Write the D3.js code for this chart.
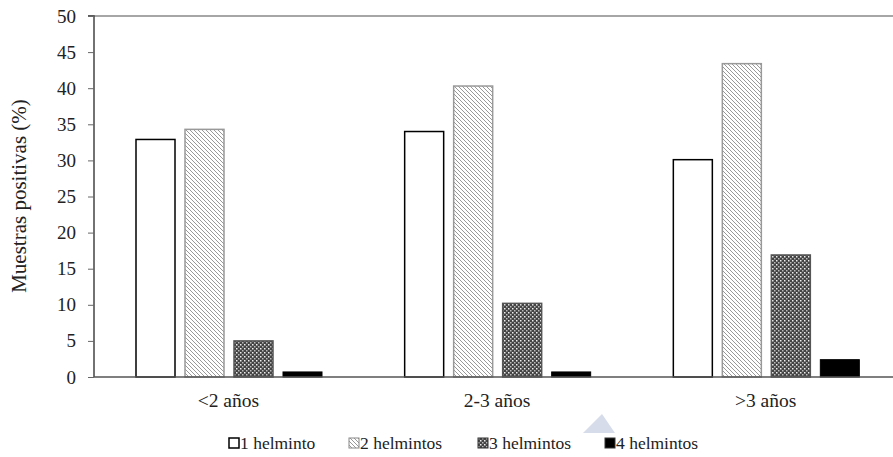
<!DOCTYPE html>
<html><head><meta charset="utf-8">
<script src="https://cdn.jsdelivr.net/npm/d3@7"></script>
<style>body{margin:0;background:#fff}svg{display:block}</style>
</head><body>
<svg id="chart" width="893" height="457"></svg>
<script>
const categories = ["<2 años", "2-3 años", ">3 años"];
const seriesNames = ["1 helminto", "2 helmintos", "3 helmintos", "4 helmintos"];
const s1 = [32.9, 34.0, 30.1];
const s2 = [34.3, 40.3, 43.4];
const s3 = [5.0, 10.2, 16.9];
const s4 = [0.7, 0.7, 2.4];
const yTicks = [0, 5, 10, 15, 20, 25, 30, 35, 40, 45, 50];
const seriesValues = [s1, s2, s3, s4];

const FONT = "'Liberation Serif', 'Times New Roman', Tinos, 'DejaVu Serif', serif";
const svg = d3.select("#chart");
const mLeft = 94, mRight = 900, mTop = 16, mBottom = 377;

const defs = svg.append("defs");
const p2 = defs.append("pattern").attr("id","hatch").attr("patternUnits","userSpaceOnUse")
  .attr("width",4).attr("height",4);
p2.append("rect").attr("width",4).attr("height",4).attr("fill","#fff");
p2.append("path").attr("d","M-1,-1 L5,5 M-1,3 L1,5 M3,-1 L5,1").attr("stroke","#999").attr("stroke-width",1);
const p3 = defs.append("pattern").attr("id","mesh").attr("patternUnits","userSpaceOnUse")
  .attr("width",4).attr("height",4);
p3.append("rect").attr("width",4).attr("height",4).attr("fill","#444");
p3.append("rect").attr("x",0).attr("y",0).attr("width",1.5).attr("height",1.5).attr("fill","#eee");
p3.append("rect").attr("x",2).attr("y",2).attr("width",1.5).attr("height",1.5).attr("fill","#bbb");

const styles = [
  {fill:"#fff", stroke:"#000", sw:1.5},
  {fill:"url(#hatch)", stroke:"#999", sw:1.5},
  {fill:"url(#mesh)", stroke:"#555", sw:1.5},
  {fill:"#000", stroke:"#000", sw:1}
];

const x0 = d3.scaleBand().domain(categories).range([mLeft, mRight]).padding(0);
const x1 = d3.scaleBand().domain(seriesNames).range([42, 228]).paddingInner(10/49).paddingOuter(0);
const y = d3.scaleLinear().domain([0, 50]).range([mBottom, mTop]);

// top border line
svg.append("line").attr("x1", mLeft-6).attr("x2", 893).attr("y1", y(50)).attr("y2", y(50))
  .attr("stroke","#888").attr("stroke-width",1.5);

// bars
categories.forEach((c, ci) => {
  seriesNames.forEach((s, si) => {
    const v = seriesValues[si][ci];
    const st = styles[si];
    svg.append("rect")
      .attr("x", x0(c) + x1(s))
      .attr("y", y(v))
      .attr("width", x1.bandwidth())
      .attr("height", y(0) - y(v))
      .attr("fill", st.fill).attr("stroke", st.stroke).attr("stroke-width", st.sw);
  });
});

// y axis
const yAxis = d3.axisLeft(y).tickValues(yTicks).tickSize(6).tickPadding(12);
const yg = svg.append("g").attr("transform", `translate(${mLeft},0)`).call(yAxis);
yg.attr("font-family", null);
yg.select(".domain").attr("stroke","#444").attr("stroke-width",1.5).attr("d", `M-6,${mTop}H0V${mBottom}`);
yg.selectAll(".tick line").attr("stroke","#666");
yg.selectAll(".tick text").style("font-size","19px").attr("fill","#222").style("font-family", FONT);

// x axis
const xAxis = d3.axisBottom(x0).tickSize(0).tickPadding(16);
const xg = svg.append("g").attr("transform", `translate(0,${mBottom})`).call(xAxis);
xg.attr("font-family", null);
xg.select(".domain").attr("stroke","#555").attr("stroke-width",1.5).attr("d", `M${mLeft},0H893`);
xg.selectAll(".tick text").style("font-size","19.5px").attr("fill","#222").style("font-family", FONT);

// y title
svg.append("text").attr("transform", "translate(26,196) rotate(-90)")
  .attr("text-anchor","middle").style("font-size","21px").attr("fill","#222").style("font-family", FONT)
  .text("Muestras positivas (%)");

// watermark triangle
svg.append("path").attr("d","M583,433 L602,414 L615,433 Z").attr("fill","#d6dcea");

// legend
const legX = [228, 348, 477, 604];
const lg = svg.append("g");
seriesNames.forEach((s, i) => {
  const st = styles[i];
  lg.append("rect").attr("x", legX[i]+1).attr("y", 438).attr("width", 10).attr("height", 10)
    .attr("fill", st.fill).attr("stroke", i===0?"#000":(i===1?"#888":"#333")).attr("stroke-width", i===0?1.5:1);
  lg.append("text").attr("x", legX[i]+12).attr("y", 449).style("font-size","17.5px").attr("fill","#222")
    .style("font-family", FONT).text(s);
});
</script>
</body></html>
